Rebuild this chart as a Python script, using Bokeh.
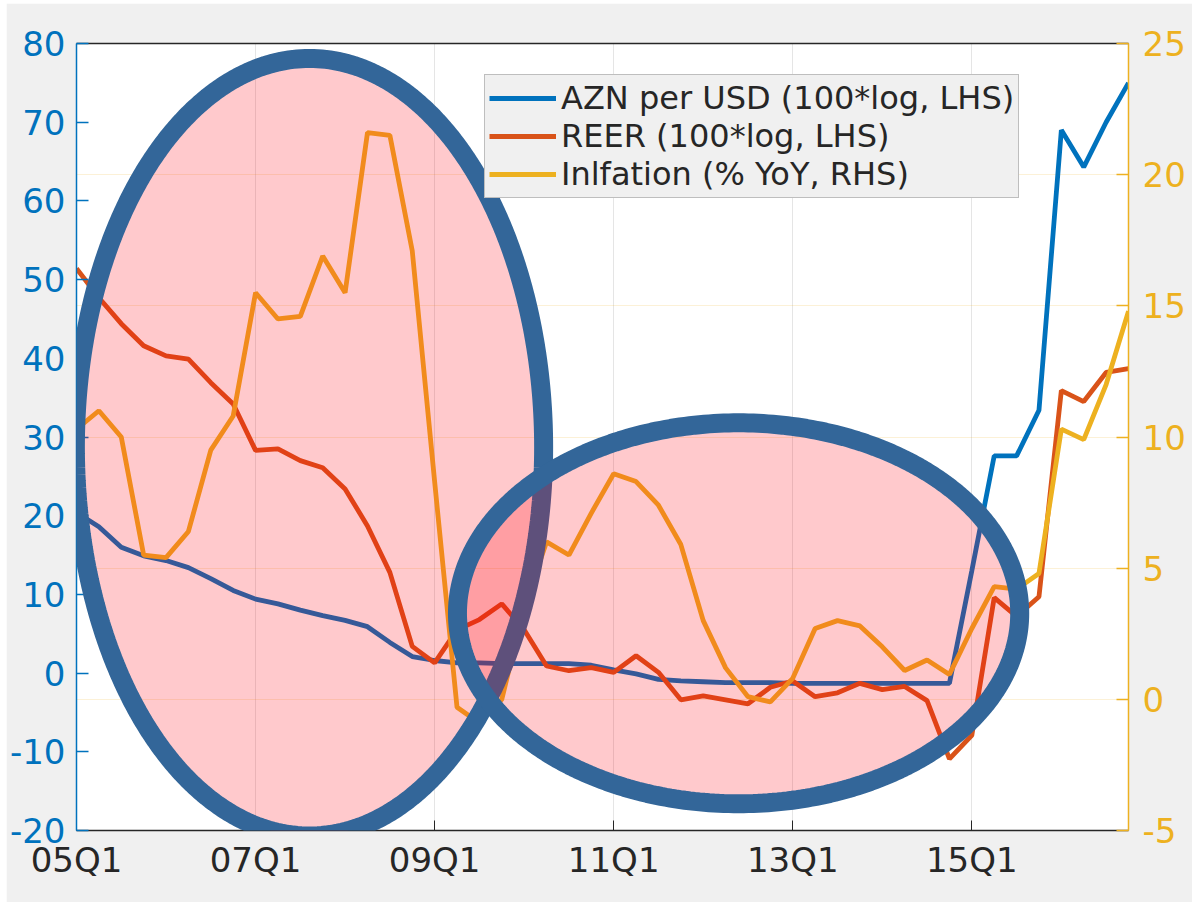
import numpy as np
from bokeh.plotting import figure
from bokeh.models import (Range1d, LinearAxis, FixedTicker, Grid, Legend, LegendItem,
                          PolyAnnotation)
from bokeh.embed import file_html
from bokeh.resources import INLINE

# ---------------- data ----------------
quarters = ["05Q1", "05Q2", "05Q3", "05Q4", "06Q1", "06Q2", "06Q3", "06Q4",
            "07Q1", "07Q2", "07Q3", "07Q4", "08Q1", "08Q2", "08Q3", "08Q4",
            "09Q1", "09Q2", "09Q3", "09Q4", "10Q1", "10Q2", "10Q3", "10Q4",
            "11Q1", "11Q2", "11Q3", "11Q4", "12Q1", "12Q2", "12Q3", "12Q4",
            "13Q1", "13Q2", "13Q3", "13Q4", "14Q1", "14Q2", "14Q3", "14Q4",
            "15Q1", "15Q2", "15Q3", "15Q4", "16Q1", "16Q2", "16Q3", "16Q4"]

azn_per_usd = [20.4, 18.6, 16.0, 14.9, 14.3, 13.4, 12.0, 10.5,
               9.4, 8.8, 8.0, 7.3, 6.7, 5.9, 3.9, 2.1,
               1.6, 1.3, 1.3, 1.2, 1.2, 1.2, 1.2, 1.0,
               0.4, -0.1, -0.8, -1.0, -1.1, -1.2, -1.2, -1.2,
               -1.3, -1.3, -1.3, -1.3, -1.3, -1.3, -1.3, -1.3,
               13.0, 27.6, 27.6, 33.4, 69.0, 64.3, 70.0, 75.0]

reer = [51.4, 47.7, 44.4, 41.6, 40.3, 39.9, 36.9, 34.2,
        28.3, 28.5, 27.0, 26.1, 23.4, 18.7, 12.8, 3.4,
        1.3, 5.5, 6.8, 8.8, 5.5, 0.9, 0.3, 0.7,
        0.1, 2.2, 0.1, -3.4, -2.9, -3.4, -3.9, -1.8,
        -1.0, -3.0, -2.5, -1.3, -2.1, -1.7, -3.5, -10.9,
        -7.9, 9.6, 7.2, 9.7, 35.9, 34.5, 38.2, 38.7]

inflation = [10.3, 11.0, 10.0, 5.5, 5.4, 6.4, 9.5, 10.8,
             15.5, 14.5, 14.6, 16.9, 15.5, 21.6, 21.5, 17.1,
             8.3, -0.3, -0.9, 0.0, 3.5, 6.0, 5.5, 7.1,
             8.6, 8.3, 7.4, 5.9, 3.0, 1.2, 0.1, -0.1,
             0.8, 2.7, 3.0, 2.8, 2.0, 1.1, 1.5, 0.95,
             2.7, 4.3, 4.2, 4.8, 10.3, 9.9, 12.0, 14.8]

x_tick_labels = ["05Q1", "07Q1", "09Q1", "11Q1", "13Q1", "15Q1"]
left_ticks = [-20, -10, 0, 10, 20, 30, 40, 50, 60, 70, 80]
left_tick_labels = ["-20", "-10", "0", "10", "20", "30", "40", "50", "60", "70", "80"]
right_ticks = [-5, 0, 5, 10, 15, 20, 25]
right_tick_labels = ["-5", "0", "5", "10", "15", "20", "25"]

series_labels = ["AZN per USD (100*log, LHS)", "REER (100*log, LHS)",
                 "Inlfation (% YoY, RHS)"]

# highlight ellipses: (centre x index, centre LHS value, x radius, y radius)
highlight_ellipses = [(10.41, 28.7, 10.46, 49.4),
                      (29.58, 7.6, 12.56, 24.2)]

# ---------------- styling ----------------
BLUE = "#0072BD"
RED = "#D95319"
ORANGE = "#EDB120"
DARK = "#262626"
FONT = "DejaVu Sans"

x = list(range(len(quarters)))

p = figure(frame_width=1052, frame_height=787, margin=(3, 0, 0, 6),
           min_border_left=67, min_border_top=40, min_border_right=66, min_border_bottom=72,
           x_range=Range1d(0, len(quarters) - 1), y_range=Range1d(-20, 80),
           output_backend="svg", toolbar_location=None,
           border_fill_color="#f0f0f0", background_fill_color="white",
           outline_line_color=None)
p.extra_y_ranges = {"rhs": Range1d(-5, 25)}

r_azn = p.line(x, azn_per_usd, line_color=BLUE, line_width=4.8)
r_reer = p.line(x, reer, line_color=RED, line_width=4.8)
r_inf = p.line(x, inflation, line_color=ORANGE, line_width=4.8, y_range_name="rhs")

# x axis
xticks = [quarters.index(t) for t in x_tick_labels]
xa = p.xaxis[0]
xa.ticker = FixedTicker(ticks=xticks)
xa.major_label_overrides = {quarters.index(t): t for t in x_tick_labels}
xa.major_label_text_font = FONT
xa.major_label_text_font_size = "34px"
xa.major_label_text_color = DARK
xa.axis_line_color = DARK
xa.axis_line_width = 1.5
xa.major_tick_line_color = DARK
xa.major_tick_in = 10
xa.major_tick_out = 0
xa.minor_tick_line_color = None
xa.major_label_standoff = 9

# left axis
ya = p.yaxis[0]
ya.ticker = FixedTicker(ticks=left_ticks)
ya.major_label_overrides = dict(zip(left_ticks, left_tick_labels))
ya.major_label_text_font = FONT
ya.major_label_text_font_size = "34px"
ya.major_label_text_color = BLUE
ya.axis_line_color = BLUE
ya.axis_line_width = 1.5
ya.major_tick_line_color = BLUE
ya.major_tick_line_width = 1.5
ya.major_tick_in = 12
ya.major_tick_out = 0
ya.minor_tick_line_color = None
ya.major_label_standoff = 11

# right axis
ra = LinearAxis(y_range_name="rhs", ticker=FixedTicker(ticks=right_ticks))
ra.major_label_overrides = dict(zip(right_ticks, right_tick_labels))
ra.major_label_text_font = FONT
ra.major_label_text_font_size = "34px"
ra.major_label_text_color = ORANGE
ra.axis_line_color = ORANGE
ra.axis_line_width = 1.5
ra.major_tick_line_color = ORANGE
ra.major_tick_line_width = 1.5
ra.major_tick_in = 12
ra.major_tick_out = 0
ra.minor_tick_line_color = None
ra.major_label_standoff = 14
p.add_layout(ra, "right")

# top border line
ta = LinearAxis(ticker=FixedTicker(ticks=[]))
ta.axis_line_color = DARK
ta.axis_line_width = 1.5
ta.major_tick_line_color = None
ta.minor_tick_line_color = None
ta.major_label_text_font_size = "0px"
p.add_layout(ta, "above")

# grids
p.xgrid.ticker = FixedTicker(ticks=xticks)
p.xgrid.grid_line_color = DARK
p.xgrid.grid_line_alpha = 0.12
p.ygrid.visible = False
rgrid = Grid(dimension=1, ticker=FixedTicker(ticks=right_ticks), y_range_name="rhs",
             grid_line_color=ORANGE, grid_line_alpha=0.18)
p.add_layout(rgrid)

# highlight ellipses
t = np.linspace(0, 2 * np.pi, 361)
for cx, cy, rx, ry in highlight_ellipses:
    pa = PolyAnnotation(xs=list(cx + rx * np.cos(t)), ys=list(cy + ry * np.sin(t)),
                        fill_color="#ff000f", fill_alpha=0.21,
                        line_color="#336699", line_width=19, line_alpha=1.0)
    p.add_layout(pa)

legend = Legend(items=[LegendItem(label=series_labels[0], renderers=[r_azn]),
                       LegendItem(label=series_labels[1], renderers=[r_reer]),
                       LegendItem(label=series_labels[2], renderers=[r_inf])],
                location=(408, 632), margin=0, padding=4, spacing=0,
                label_text_font=FONT, label_text_font_size="32px",
                label_text_color=DARK, glyph_width=67, glyph_height=38,
                label_height=38, label_standoff=5,
                border_line_color="#8c8c8c", border_line_width=1.5,
                background_fill_color="#f0f0f0", background_fill_alpha=1.0)
p.add_layout(legend)

open("out.html", "w").write(file_html(p, INLINE))
